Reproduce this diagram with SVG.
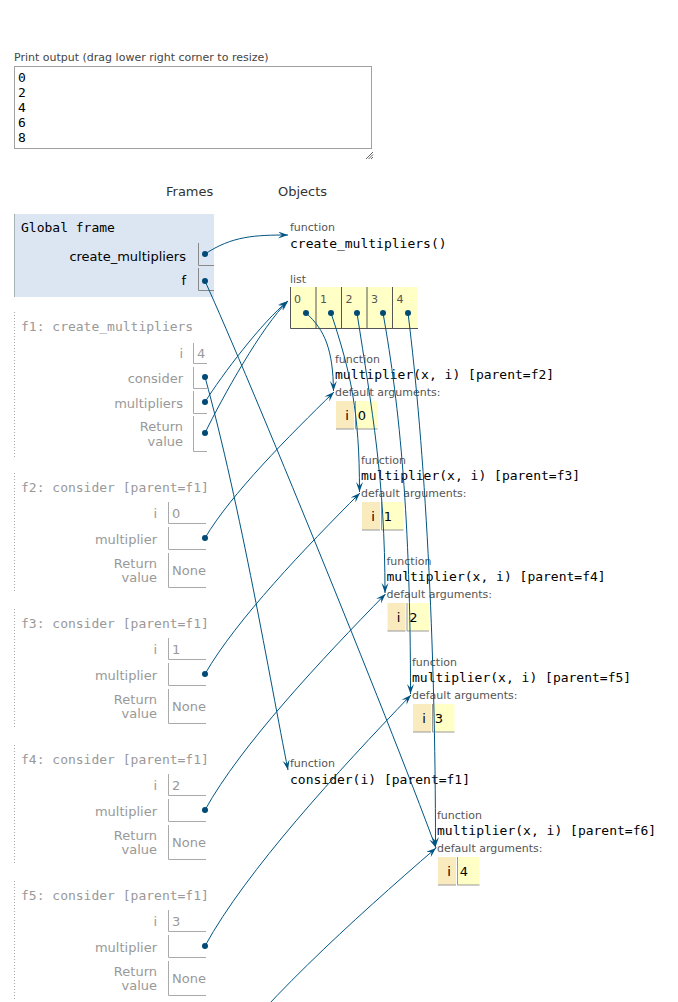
<svg xmlns="http://www.w3.org/2000/svg" width="678" height="1002" viewBox="0 0 678 1002">
<defs>
<style>
.mono{font-family:"DejaVu Sans Mono","Liberation Mono",monospace;font-size:13px}
.sans{font-family:"DejaVu Sans","Liberation Sans",sans-serif}
.s11{font-size:11px}
.s13{font-size:13px}
.hdr{font-family:"DejaVu Sans","Liberation Sans",sans-serif;font-size:13px;fill:#333}
.blk{fill:#000}
.zt{fill:#999}
.lbl{font-family:"DejaVu Sans","Liberation Sans",sans-serif;font-size:13px;text-anchor:end}
.zl{fill:#999}
.val{font-family:"DejaVu Sans","Liberation Sans",sans-serif;font-size:13px;fill:#999}
.gbox{fill:none;stroke:#888;stroke-width:1}
.zbox{fill:none;stroke:#aaa;stroke-width:1}
.dots{stroke:#aaa;stroke-width:1;stroke-dasharray:1,2}
.tl{font-family:"DejaVu Sans","Liberation Sans",sans-serif;font-size:11px;fill:#555}
.code{font-family:"DejaVu Sans Mono","Liberation Mono",monospace;font-size:13px;fill:#000}
.key{fill:#faebbf}
.cv{fill:#ffffc6}
.cb{stroke:#999;stroke-width:1;fill:none}
.lb{stroke:#555;stroke-width:1;fill:none}
.c{fill:none;stroke:#005583;stroke-width:1;marker-end:url(#ah)}
.d{fill:#004a75}
</style>
<marker id="ah" markerWidth="11" markerHeight="8" refX="10" refY="3.5" orient="auto" markerUnits="userSpaceOnUse">
<path d="M0,0 L10,3.5 L0,7 L4,3.5 z" fill="#005583"/>
</marker>
</defs>
<rect width="678" height="1002" fill="#fff"/>

<g id="print-output">
<text class="sans s11" x="14" y="61" fill="#444">Print output (drag lower right corner to resize)</text>
<rect x="14.5" y="66.5" width="357" height="82" fill="#fff" stroke="#a0a0a0"/>
<text class="mono" x="18" y="81.5">0</text>
<text class="mono" x="18" y="96.5">2</text>
<text class="mono" x="18" y="111.5">4</text>
<text class="mono" x="18" y="126.5">6</text>
<text class="mono" x="18" y="141.5">8</text>
<path d="M366,159 L373,152 M368.5,159 L373,154.5 M371,159 L373,157" stroke="#666" stroke-width="1"/>
</g>

<g id="headers">
<text class="hdr" x="166" y="196">Frames</text>
<text class="hdr" x="278" y="196">Objects</text>
</g>

<g id="frame-global">
<rect x="14" y="214" width="200" height="83" fill="#dce6f2"/>
<line x1="14.5" y1="214" x2="14.5" y2="297" stroke="#a6b3b6"/>
<text class="mono" x="21" y="231.5">Global frame</text>
<text class="lbl blk" x="186" y="260.5">create_multipliers</text>
<path class="gbox" d="M198.5,243 V265.5 H214"/>
<text class="lbl blk" x="186" y="284.5">f</text>
<path class="gbox" d="M198.5,268 V290.5 H214"/>
</g>

<g id="frame-f1">
<line class="dots" x1="14.5" y1="312" x2="14.5" y2="457"/>
<text class="mono zt" x="21" y="330.5">f1: create_multipliers</text>
<text class="lbl zl" x="183" y="357.5">i</text>
<path class="zbox" d="M193.5,343 V363.5 H207"/>
<text class="val" x="197" y="357.5">4</text>
<text class="lbl zl" x="183" y="382.5">consider</text>
<path class="zbox" d="M193.5,367 V388.5 H207"/>
<text class="lbl zl" x="183" y="407.5">multipliers</text>
<path class="zbox" d="M193.5,391 V413.5 H207"/>
<text class="lbl zl" x="183" y="430.5">Return</text>
<text class="lbl zl" x="183" y="445.5">value</text>
<path class="zbox" d="M193.5,416 V451.5 H207"/>
</g>

<g id="frame-f2">
<line class="dots" x1="14.5" y1="473" x2="14.5" y2="593"/>
<text class="mono zt" x="21" y="491.5">f2: consider [parent=f1]</text>
<text class="lbl zl" x="157" y="517.5">i</text>
<path class="zbox" d="M168.5,502 V523.5 H206"/>
<text class="val" x="172" y="517.5">0</text>
<text class="lbl zl" x="157" y="544">multiplier</text>
<path class="zbox" d="M168.5,527 V549.5 H206"/>
<text class="lbl zl" x="157" y="567.5">Return</text>
<text class="lbl zl" x="157" y="581.5">value</text>
<path class="zbox" d="M168.5,553 V587.5 H206"/>
<text class="val" x="172" y="574.5">None</text>
</g>

<g id="frame-f3" transform="translate(0,136)">
<line class="dots" x1="14.5" y1="473" x2="14.5" y2="593"/>
<text class="mono zt" x="21" y="491.5">f3: consider [parent=f1]</text>
<text class="lbl zl" x="157" y="517.5">i</text>
<path class="zbox" d="M168.5,502 V523.5 H206"/>
<text class="val" x="172" y="517.5">1</text>
<text class="lbl zl" x="157" y="544">multiplier</text>
<path class="zbox" d="M168.5,527 V549.5 H206"/>
<text class="lbl zl" x="157" y="567.5">Return</text>
<text class="lbl zl" x="157" y="581.5">value</text>
<path class="zbox" d="M168.5,553 V587.5 H206"/>
<text class="val" x="172" y="574.5">None</text>
</g>

<g id="frame-f4" transform="translate(0,272)">
<line class="dots" x1="14.5" y1="473" x2="14.5" y2="593"/>
<text class="mono zt" x="21" y="491.5">f4: consider [parent=f1]</text>
<text class="lbl zl" x="157" y="517.5">i</text>
<path class="zbox" d="M168.5,502 V523.5 H206"/>
<text class="val" x="172" y="517.5">2</text>
<text class="lbl zl" x="157" y="544">multiplier</text>
<path class="zbox" d="M168.5,527 V549.5 H206"/>
<text class="lbl zl" x="157" y="567.5">Return</text>
<text class="lbl zl" x="157" y="581.5">value</text>
<path class="zbox" d="M168.5,553 V587.5 H206"/>
<text class="val" x="172" y="574.5">None</text>
</g>

<g id="frame-f5" transform="translate(0,408)">
<line class="dots" x1="14.5" y1="473" x2="14.5" y2="593"/>
<text class="mono zt" x="21" y="491.5">f5: consider [parent=f1]</text>
<text class="lbl zl" x="157" y="517.5">i</text>
<path class="zbox" d="M168.5,502 V523.5 H206"/>
<text class="val" x="172" y="517.5">3</text>
<text class="lbl zl" x="157" y="544">multiplier</text>
<path class="zbox" d="M168.5,527 V549.5 H206"/>
<text class="lbl zl" x="157" y="567.5">Return</text>
<text class="lbl zl" x="157" y="581.5">value</text>
<path class="zbox" d="M168.5,553 V587.5 H206"/>
<text class="val" x="172" y="574.5">None</text>
</g>

<g id="obj-create_multipliers">
<text class="tl" x="290" y="231">function</text>
<text class="code" x="290" y="247.5">create_multipliers()</text>
</g>

<g id="obj-list">
<text class="tl" x="290" y="283">list</text>
<rect class="cv" x="290" y="287" width="128" height="42"/>
<path class="lb" d="M290.5,287 V328.5 H418 M316,287 V328.5 M341.5,287 V328.5 M367,287 V328.5 M392.5,287 V328.5"/>
<text class="tl" x="294" y="303" fill="#777">0</text>
<text class="tl" x="320" y="303" fill="#777">1</text>
<text class="tl" x="345.5" y="303" fill="#777">2</text>
<text class="tl" x="371" y="303" fill="#777">3</text>
<text class="tl" x="396.5" y="303" fill="#777">4</text>
</g>

<g id="obj-multiplier-f2" transform="translate(335,358.5)">
<text class="tl" x="0" y="4">function</text>
<text class="code" x="0" y="20.5">multiplier(x, i) [parent=f2]</text>
<text class="tl" x="0" y="37.5">default arguments:</text>
<rect class="key" x="1" y="42.5" width="18" height="28"/>
<rect class="cv" x="20.5" y="42.5" width="22" height="28"/>
<path class="cb" d="M1,70.5 H19 M20.5,42.5 V70.5 H42.5"/>
<text class="sans s13" x="12" y="61.5" text-anchor="middle">i</text>
<text class="sans s13" x="27" y="61.5" text-anchor="middle">0</text>
</g>

<g id="obj-multiplier-f3" transform="translate(361,459.5)">
<text class="tl" x="0" y="4">function</text>
<text class="code" x="0" y="20.5">multiplier(x, i) [parent=f3]</text>
<text class="tl" x="0" y="37.5">default arguments:</text>
<rect class="key" x="1" y="42.5" width="18" height="28"/>
<rect class="cv" x="20.5" y="42.5" width="22" height="28"/>
<path class="cb" d="M1,70.5 H19 M20.5,42.5 V70.5 H42.5"/>
<text class="sans s13" x="12" y="61.5" text-anchor="middle">i</text>
<text class="sans s13" x="27" y="61.5" text-anchor="middle">1</text>
</g>

<g id="obj-multiplier-f4" transform="translate(386.5,560.5)">
<text class="tl" x="0" y="4">function</text>
<text class="code" x="0" y="20.5">multiplier(x, i) [parent=f4]</text>
<text class="tl" x="0" y="37.5">default arguments:</text>
<rect class="key" x="1" y="42.5" width="18" height="28"/>
<rect class="cv" x="20.5" y="42.5" width="22" height="28"/>
<path class="cb" d="M1,70.5 H19 M20.5,42.5 V70.5 H42.5"/>
<text class="sans s13" x="12" y="61.5" text-anchor="middle">i</text>
<text class="sans s13" x="27" y="61.5" text-anchor="middle">2</text>
</g>

<g id="obj-multiplier-f5" transform="translate(412,661.5)">
<text class="tl" x="0" y="4">function</text>
<text class="code" x="0" y="20.5">multiplier(x, i) [parent=f5]</text>
<text class="tl" x="0" y="37.5">default arguments:</text>
<rect class="key" x="1" y="42.5" width="18" height="28"/>
<rect class="cv" x="20.5" y="42.5" width="22" height="28"/>
<path class="cb" d="M1,70.5 H19 M20.5,42.5 V70.5 H42.5"/>
<text class="sans s13" x="12" y="61.5" text-anchor="middle">i</text>
<text class="sans s13" x="27" y="61.5" text-anchor="middle">3</text>
</g>

<g id="obj-consider">
<text class="tl" x="290" y="767">function</text>
<text class="code" x="290" y="783.5">consider(i) [parent=f1]</text>
</g>

<g id="obj-multiplier-f6" transform="translate(437,814.5)">
<text class="tl" x="0" y="4">function</text>
<text class="code" x="0" y="20.5">multiplier(x, i) [parent=f6]</text>
<text class="tl" x="0" y="37.5">default arguments:</text>
<rect class="key" x="1" y="42.5" width="18" height="28"/>
<rect class="cv" x="20.5" y="42.5" width="22" height="28"/>
<path class="cb" d="M1,70.5 H19 M20.5,42.5 V70.5 H42.5"/>
<text class="sans s13" x="12" y="61.5" text-anchor="middle">i</text>
<text class="sans s13" x="27" y="61.5" text-anchor="middle">4</text>
</g>

<g id="connectors">
<path class="c" d="M205,254 C232,236 255,235 288,235"/>
<path class="c" d="M205,281 C250,380 385,710 436,848"/>
<path class="c" d="M205,377 C241,508 270,680 288,770"/>
<path class="c" d="M205,402 C222,375 262,322 288,301"/>
<path class="c" d="M205,433 C222,398 262,326 288,301"/>
<path class="c" d="M306,313 C325,330 333,350 333.5,391"/>
<path class="c" d="M331,313 C351,373 359.5,412 359.5,492"/>
<path class="c" d="M357,313 C372,410 385,480 385,593"/>
<path class="c" d="M383,313 C400,408 410.5,520 410.5,694"/>
<path class="c" d="M408,313 C425,450 435.5,640 435.5,847"/>
<path class="c" d="M205,538 C231,494 289,436 334,392"/>
<path class="c" d="M205,674 C236,620 306,547 360,493"/>
<path class="c" d="M205,810 C241,745 322,659 385.5,594"/>
<path class="c" d="M205,946 C246,871 339,770 411,695"/>
<path class="c" d="M205,1082 C251,1012 355,918 436,848"/>
<circle class="d" cx="205" cy="254" r="3"/>
<circle class="d" cx="205" cy="281" r="3"/>
<circle class="d" cx="205" cy="377" r="3"/>
<circle class="d" cx="205" cy="402" r="3"/>
<circle class="d" cx="205" cy="433" r="3"/>
<circle class="d" cx="306" cy="313" r="3"/>
<circle class="d" cx="331" cy="313" r="3"/>
<circle class="d" cx="357" cy="313" r="3"/>
<circle class="d" cx="383" cy="313" r="3"/>
<circle class="d" cx="408" cy="313" r="3"/>
<circle class="d" cx="205" cy="538" r="3"/>
<circle class="d" cx="205" cy="674" r="3"/>
<circle class="d" cx="205" cy="810" r="3"/>
<circle class="d" cx="205" cy="946" r="3"/>
</g>
</svg>
